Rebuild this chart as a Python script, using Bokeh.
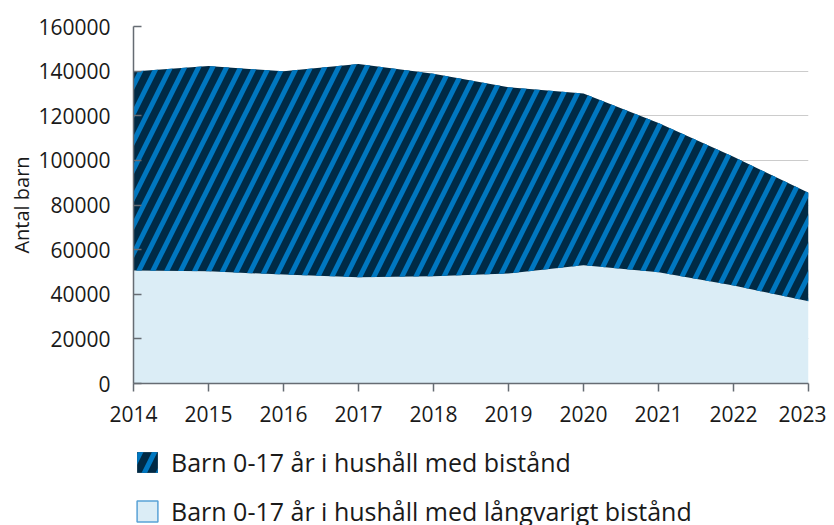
from bokeh.plotting import figure
from bokeh.layouts import column
from bokeh.models import (Range1d, FixedTicker, NumeralTickFormatter,
                          Legend, LegendItem, ColumnDataSource)
from bokeh.embed import file_html
from bokeh.resources import INLINE

years = [2014, 2015, 2016, 2017, 2018, 2019, 2020, 2021, 2022, 2023]
total_bistand = [139800, 142300, 139900, 143200, 138800, 132800, 130000, 116800, 101600, 85500]
langvarigt = [50600, 50300, 48800, 47600, 48100, 49300, 53000, 49900, 43900, 36900]
y_ticks = [0, 20000, 40000, 60000, 80000, 100000, 120000, 140000, 160000]
labels = ["Barn 0-17 år i hushåll med bistånd", "Barn 0-17 år i hushåll med långvarigt bistånd"]

FONT = "Open Sans"
TXT = "#1a1a1a"
AX = "#666c73"
NAVY = "#002a45"
BLUE = "#0077c0"
LIGHT = "#dbedf6"

HATCH = dict(fill_color=NAVY, hatch_pattern="/", hatch_color=BLUE,
             hatch_scale=28, hatch_weight=5)

src = ColumnDataSource(dict(x=years, total=total_bistand, lang=langvarigt, zero=[0] * len(years)))

p = figure(frame_width=675, frame_height=357,
           output_backend="svg", toolbar_location=None,
           x_range=Range1d(2014, 2023), y_range=Range1d(0, 160000),
           min_border_left=133, min_border_right=18, min_border_top=26, min_border_bottom=49)
p.outline_line_color = None

r_light = p.varea(x="x", y1="zero", y2="lang", source=src, fill_color=LIGHT)
r_dark = p.varea(x="x", y1="lang", y2="total", source=src, **HATCH)

p.xgrid.grid_line_color = None
p.ygrid.grid_line_color = "#cccccc"
p.ygrid.grid_line_width = 1
p.ygrid.ticker = FixedTicker(ticks=y_ticks)

p.xaxis.ticker = FixedTicker(ticks=years)
p.yaxis.ticker = FixedTicker(ticks=y_ticks)
p.yaxis.formatter = NumeralTickFormatter(format="0")

for ax in (p.xaxis[0], p.yaxis[0]):
    ax.axis_line_color = AX
    ax.axis_line_width = 1.5
    ax.major_tick_line_color = AX
    ax.major_tick_line_width = 1.5
    ax.minor_tick_line_color = None
    ax.major_label_text_font = FONT
    ax.major_label_text_font_size = "21px"
    ax.major_label_text_color = TXT

p.xaxis.major_tick_in = 0
p.xaxis.major_tick_out = 8
p.xaxis.major_label_standoff = 14
p.yaxis.major_tick_in = 8
p.yaxis.major_tick_out = 0
p.yaxis.major_label_standoff = 23
p.yaxis.axis_label = "Antal barn"
p.yaxis.axis_label_text_font = FONT
p.yaxis.axis_label_text_font_style = "normal"
p.yaxis.axis_label_text_font_size = "20px"
p.yaxis.axis_label_text_color = TXT
p.yaxis.axis_label_standoff = 0

# legend strip below the chart: legend renderers reuse the data but lie outside this strip's range
lg = figure(frame_width=675, frame_height=93, output_backend="svg", toolbar_location=None,
            x_range=Range1d(0, 1), y_range=Range1d(0, 1),
            x_axis_location=None, y_axis_location=None,
            min_border_left=133, min_border_right=18, min_border_top=0, min_border_bottom=0)
lg.outline_line_color = None
lg.grid.grid_line_color = None
l_dark = lg.varea(x="x", y1="lang", y2="total", source=src, **HATCH)
l_light = lg.varea(x="x", y1="zero", y2="lang", source=src, fill_color=LIGHT)
l_edge = lg.rect(x="x", y="lang", width=1, height=1, source=src,
                 fill_color=LIGHT, line_color="#5aa2d6", line_width=1.5)

legend = Legend(items=[LegendItem(label=labels[0], renderers=[l_dark]),
                       LegendItem(label=labels[1], renderers=[l_light, l_edge])],
                location=(1, -3), orientation="vertical",
                glyph_width=26, glyph_height=26, label_standoff=11, spacing=15,
                padding=0, margin=0, border_line_color=None, background_fill_alpha=0,
                label_text_font=FONT, label_text_font_size="25px", label_text_color=TXT)
lg.add_layout(legend, "center")

page = column(p, lg, spacing=0)
open("out.html", "w").write(file_html(page, INLINE))
